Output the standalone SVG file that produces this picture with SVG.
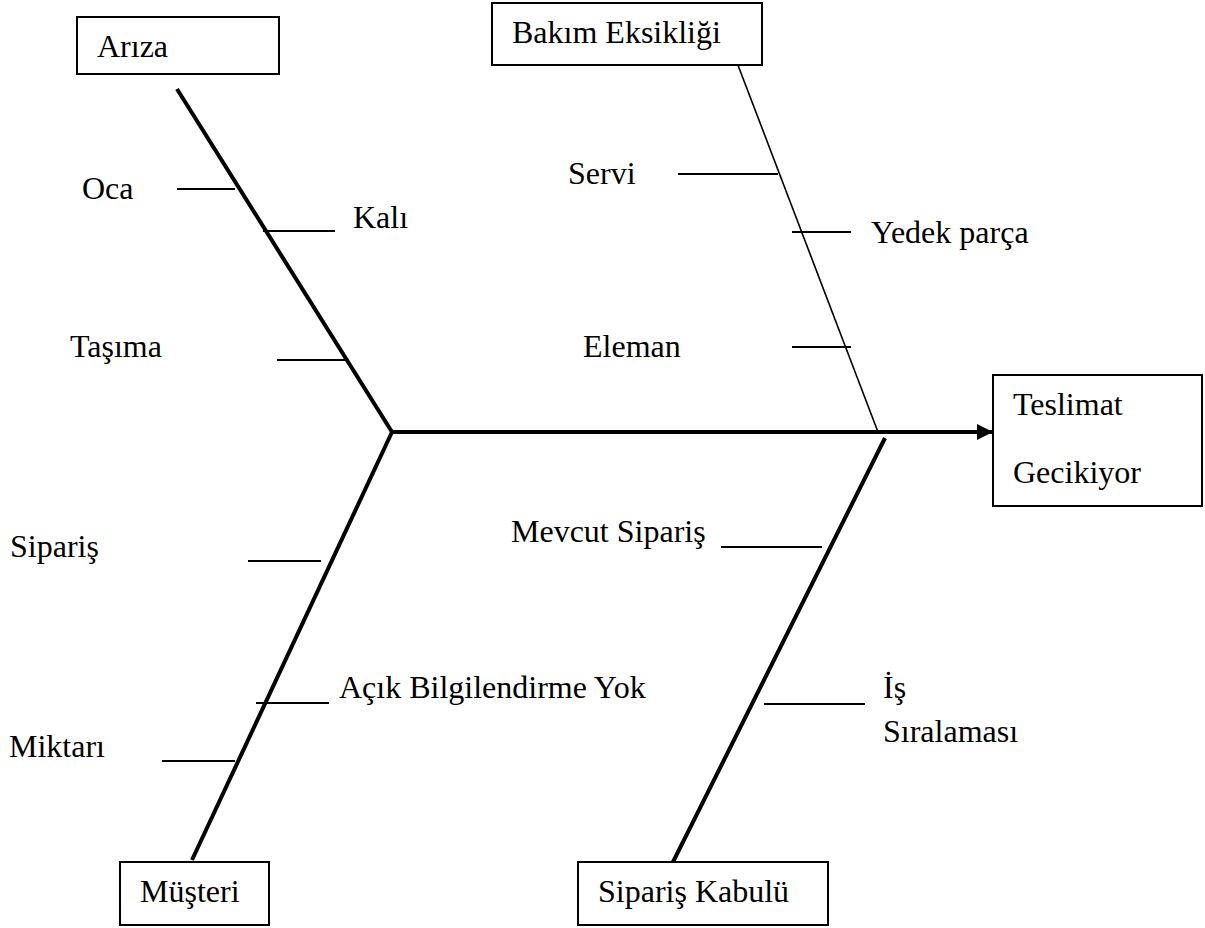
<svg xmlns="http://www.w3.org/2000/svg" width="1205" height="928" viewBox="0 0 1205 928">
<style>
text{font-family:"Liberation Serif","Times New Roman",serif;font-size:32px;fill:#000}
.box{fill:#fff;stroke:#000;stroke-width:2}
.bone{stroke:#000;stroke-width:4;fill:none}
.thin{stroke:#000;stroke-width:1.6;fill:none}
.tick{stroke:#000;stroke-width:2;fill:none}
</style>
<defs>
<marker id="arr" markerUnits="userSpaceOnUse" markerWidth="17" markerHeight="16" refX="16" refY="8" orient="auto">
<path d="M0,0 L16,8 L0,16 Z" fill="#000"/>
</marker>
</defs>
<g id="connectors">
<line class="bone" x1="392" y1="432" x2="993" y2="432" marker-end="url(#arr)"/>
<line class="bone" x1="177" y1="89" x2="392" y2="432"/>
<line class="bone" x1="392" y1="432" x2="192" y2="860"/>
<line class="thin" x1="736" y1="60" x2="878" y2="432"/>
<line class="bone" x1="885" y1="438" x2="668" y2="872"/>
<line class="tick" x1="177" y1="189" x2="235" y2="189"/>
<line class="tick" x1="263" y1="231" x2="335" y2="231"/>
<line class="tick" x1="277" y1="360" x2="349" y2="360"/>
<line class="tick" x1="678" y1="174" x2="778" y2="174"/>
<line class="tick" x1="792" y1="232" x2="851" y2="232"/>
<line class="tick" x1="792" y1="347" x2="851" y2="347"/>
<line class="tick" x1="248" y1="561" x2="321" y2="561"/>
<line class="tick" x1="256" y1="703" x2="329" y2="703"/>
<line class="tick" x1="162" y1="761" x2="235" y2="761"/>
<line class="tick" x1="721" y1="547" x2="822" y2="547"/>
<line class="tick" x1="764" y1="704" x2="865" y2="704"/>
</g>
<g id="ariza"><rect class="box" x="77" y="17" width="202" height="57"/><text x="97" y="57">Arıza</text></g>
<g id="bakim"><rect class="box" x="492" y="3" width="270" height="62"/><text x="512" y="43">Bakım Eksikliği</text></g>
<g id="teslimat"><rect class="box" x="993" y="375" width="209" height="131"/><text x="1013" y="415">Teslimat</text><text x="1013" y="483">Gecikiyor</text></g>
<g id="musteri"><rect class="box" x="120" y="862" width="149" height="63"/><text x="140" y="902">Müşteri</text></g>
<g id="siparis-kabulu"><rect class="box" x="578" y="862" width="250" height="63"/><text x="598" y="902">Sipariş Kabulü</text></g>
<g id="labels">
<text x="82" y="199">Oca</text>
<text x="353" y="228">Kalı</text>
<text x="70" y="357">Taşıma</text>
<text x="568" y="184">Servi</text>
<text x="871" y="243">Yedek parça</text>
<text x="583" y="357">Eleman</text>
<text x="10" y="557">Sipariş</text>
<text x="339" y="698">Açık Bilgilendirme Yok</text>
<text x="9" y="757">Miktarı</text>
<text x="511" y="542">Mevcut Sipariş</text>
<text x="883" y="698">İş</text>
<text x="883" y="742">Sıralaması</text>
</g>
</svg>
